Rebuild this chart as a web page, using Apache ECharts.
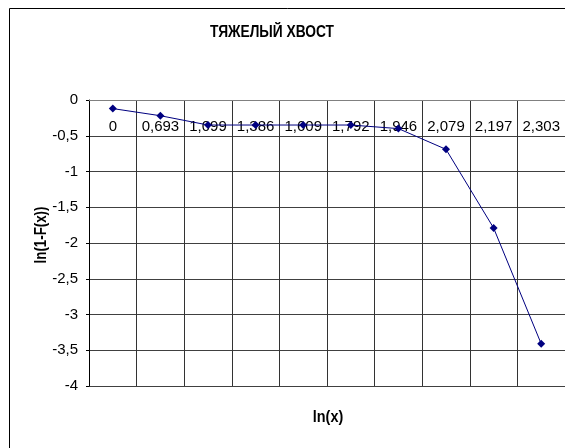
<!DOCTYPE html>
<html><head><meta charset="utf-8">
<script src="https://cdn.jsdelivr.net/npm/echarts@6/dist/echarts.min.js"></script>
<style>html,body{margin:0;padding:0;background:#fff}#c{width:565px;height:448px}</style>
</head><body><div id="c"></div>
<script>
const categories = ['0','0,693','1,099','1,386','1,609','1,792','1,946','2,079','2,197','2,303'];
const values = [-0.12,-0.22,-0.35,-0.35,-0.35,-0.35,-0.40,-0.69,-1.79,-3.41];
const yTicks = [-4,-3.5,-3,-2.5,-2,-1.5,-1,-0.5,0];
const titleText = 'ТЯЖЕЛЫЙ ХВОСТ';
const xName = 'ln(x)';
const yName = 'ln(1-F(x))';
const FONT = "'Liberation Sans', Arial, sans-serif";
const chart = echarts.init(document.getElementById('c'));
chart.setOption({
  animation:false,
  backgroundColor:'#fff',
  graphic:[
    {type:'rect',shape:{x:9.5,y:8.5,width:600,height:500},style:{fill:'none',stroke:'#000',lineWidth:1},silent:true},
    {type:'text',x:272,y:33,scaleX:0.86,silent:true,
      style:{text:titleText,font:"bold 16px "+FONT,fill:'#000',align:'center',verticalAlign:'middle',textAlign:'center',textVerticalAlign:'middle'}},
    {type:'text',x:42,y:235,rotation:Math.PI/2,scaleX:0.83,silent:true,
      style:{text:yName,font:"bold 16px "+FONT,fill:'#000',align:'center',verticalAlign:'middle',textAlign:'center',textVerticalAlign:'middle'}},
    {type:'text',x:328,y:418,scaleX:0.9,silent:true,
      style:{text:xName,font:"bold 16px "+FONT,fill:'#000',align:'center',verticalAlign:'middle',textAlign:'center',textVerticalAlign:'middle'}}
  ],
  grid:{left:89,top:100,right:-1,bottom:62,containLabel:false},
  xAxis:{type:'category',data:categories,boundaryGap:true,position:'top',
    axisLine:{show:true,onZero:false,lineStyle:{color:'#808080',width:1}},
    axisTick:{show:false},
    axisLabel:{inside:true,color:'#000',fontFamily:FONT,fontSize:15,margin:19,interval:0},
    splitLine:{show:true,interval:0,lineStyle:{color:'#333',width:1}}
  },
  yAxis:{type:'value',min:yTicks[0],max:yTicks[yTicks.length-1],interval:0.5,
    axisLine:{show:true,lineStyle:{color:'#000'}},
    axisTick:{show:true,length:3,lineStyle:{color:'#000'}},
    axisLabel:{color:'#000',fontFamily:FONT,fontSize:15,margin:11,
      formatter:v=>String(v).replace('.',',')},
    splitLine:{show:true,lineStyle:{color:'#404040',width:1}}
  },
  series:[{type:'line',data:values,symbol:'diamond',symbolSize:8,
    lineStyle:{color:'#000080',width:1},itemStyle:{color:'#000080'}}]
});
</script></body></html>
